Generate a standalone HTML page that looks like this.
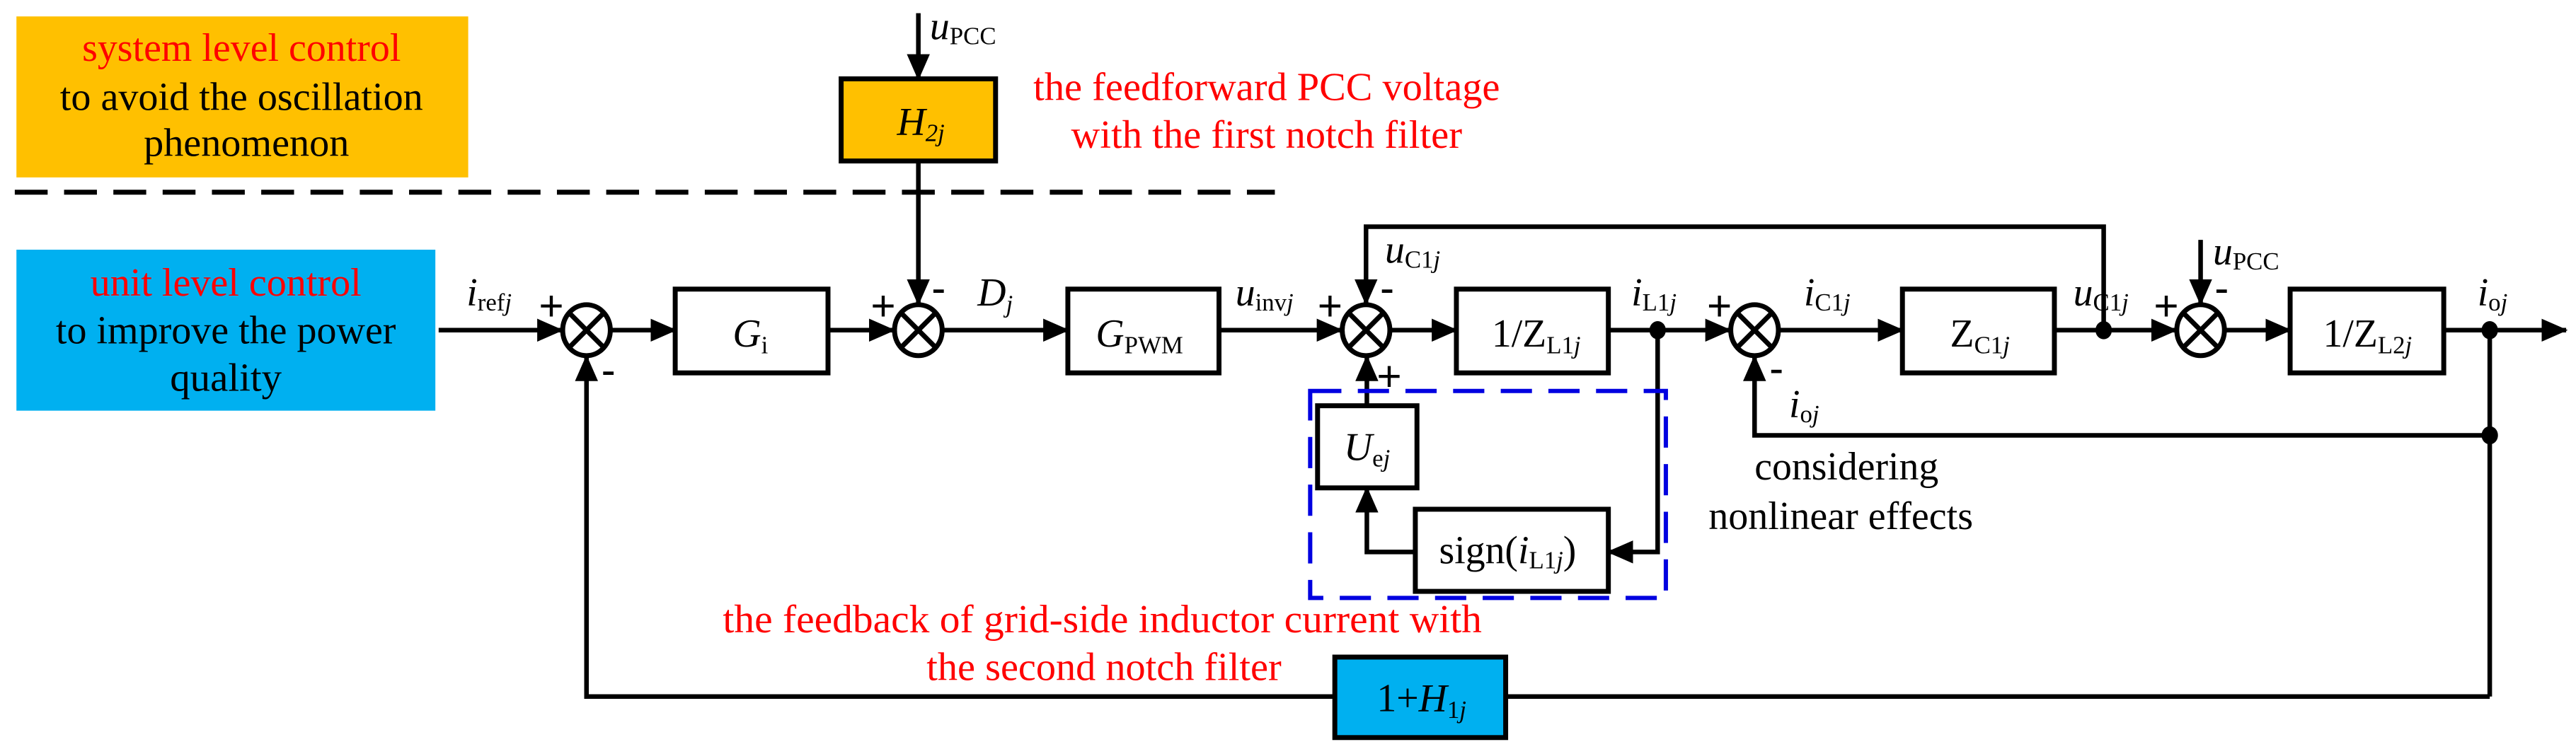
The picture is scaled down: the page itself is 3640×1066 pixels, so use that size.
<!DOCTYPE html>
<html><head><meta charset="utf-8"><style>
html,body{margin:0;padding:0;background:#fff;}
svg{display:block;}
</style></head><body>
<svg width="3640" height="1066" viewBox="0 0 1568 459" preserveAspectRatio="none" xmlns="http://www.w3.org/2000/svg" font-family="Liberation Serif, DejaVu Serif, serif">
<defs>
<marker id="a" markerWidth="16" markerHeight="14" refX="15" refY="7" orient="auto" markerUnits="userSpaceOnUse"><path d="M0,0L16,7L0,14z" fill="#000"/></marker>
</defs>
<rect x="10" y="10" width="275" height="98" fill="#FFC000"/>
<text x="147" y="37" font-size="24" fill="#f00" text-anchor="middle" textLength="194" lengthAdjust="spacingAndGlyphs">system level control</text>
<text x="147" y="67" font-size="24" text-anchor="middle" textLength="221" lengthAdjust="spacingAndGlyphs">to avoid the oscillation</text>
<text x="150" y="95" font-size="24" text-anchor="middle" textLength="125" lengthAdjust="spacingAndGlyphs">phenomenon</text>
<line x1="9" y1="117" x2="776" y2="117" stroke="#000" stroke-width="3" stroke-dasharray="20,10"/>
<rect x="10" y="152" width="255" height="98" fill="#00B0F0"/>
<text x="137.5" y="180" font-size="24" fill="#f00" text-anchor="middle" textLength="165" lengthAdjust="spacingAndGlyphs">unit level control</text>
<text x="137.5" y="209" font-size="24" text-anchor="middle" textLength="207" lengthAdjust="spacingAndGlyphs">to improve the power</text>
<text x="137.5" y="238" font-size="24" text-anchor="middle" textLength="68" lengthAdjust="spacingAndGlyphs">quality</text>
<text x="629" y="61" font-size="24" fill="#f00" textLength="284" lengthAdjust="spacingAndGlyphs">the feedforward PCC voltage</text>
<text x="652" y="90" font-size="24" fill="#f00" textLength="238" lengthAdjust="spacingAndGlyphs">with the first notch filter</text>
<text x="440" y="385" font-size="24" fill="#f00" textLength="462" lengthAdjust="spacingAndGlyphs">the feedback of grid-side inductor current with</text>
<text x="564" y="414" font-size="24" fill="#f00" textLength="216" lengthAdjust="spacingAndGlyphs">the second notch filter</text>
<text x="1068" y="292" font-size="24" textLength="112" lengthAdjust="spacingAndGlyphs">considering</text>
<text x="1040" y="322" font-size="24" textLength="161" lengthAdjust="spacingAndGlyphs">nonlinear effects</text>

<g stroke="#000" stroke-width="2.8" fill="none">
<rect x="512" y="48" width="94" height="50" fill="#FFC000" stroke-width="3"/>
<rect x="411" y="176" width="93" height="51" stroke-width="3"/>
<rect x="650" y="176" width="92" height="51" stroke-width="3"/>
<rect x="886.5" y="176" width="92.5" height="51" stroke-width="3"/>
<rect x="1158" y="176" width="92.5" height="51" stroke-width="3"/>
<rect x="1394" y="176" width="93.5" height="51" stroke-width="3"/>
<rect x="812.5" y="400" width="104" height="49" fill="#00B0F0" stroke-width="3"/>
<rect x="802" y="247" width="60.5" height="50" stroke-width="3"/>
<rect x="861.5" y="310" width="117.5" height="50" stroke-width="3"/>
<g stroke-width="3">
<ellipse cx="357" cy="201" rx="14.5" ry="15.5"/><path d="M346.4,190.4L367.6,211.6M367.6,190.4L346.4,211.6"/>
<ellipse cx="559" cy="201" rx="14.5" ry="15.5"/><path d="M548.4,190.4L569.6,211.6M569.6,190.4L548.4,211.6"/>
<ellipse cx="831.5" cy="201" rx="14.5" ry="15.5"/><path d="M820.9,190.4L842.1,211.6M842.1,190.4L820.9,211.6"/>
<ellipse cx="1068" cy="201" rx="14.5" ry="15.5"/><path d="M1057.4,190.4L1078.6,211.6M1078.6,190.4L1057.4,211.6"/>
<ellipse cx="1339.5" cy="201" rx="14.5" ry="15.5"/><path d="M1328.9,190.4L1350.1,211.6M1350.1,190.4L1328.9,211.6"/>
</g>
<line x1="267" y1="201" x2="342" y2="201" marker-end="url(#a)"/>
<line x1="372" y1="201" x2="411" y2="201" marker-end="url(#a)"/>
<line x1="504" y1="201" x2="544" y2="201" marker-end="url(#a)"/>
<line x1="574" y1="201" x2="650" y2="201" marker-end="url(#a)"/>
<line x1="742" y1="201" x2="816.5" y2="201" marker-end="url(#a)"/>
<line x1="846.5" y1="201" x2="886.5" y2="201" marker-end="url(#a)"/>
<line x1="979" y1="201" x2="1053" y2="201" marker-end="url(#a)"/>
<line x1="1083" y1="201" x2="1158" y2="201" marker-end="url(#a)"/>
<line x1="1250.5" y1="201" x2="1324.5" y2="201" marker-end="url(#a)"/>
<line x1="1354.5" y1="201" x2="1394" y2="201" marker-end="url(#a)"/>
<line x1="1487.5" y1="201" x2="1562" y2="201" marker-end="url(#a)"/>
<line x1="559" y1="8" x2="559" y2="48" marker-end="url(#a)"/>
<line x1="559" y1="98" x2="559" y2="185" marker-end="url(#a)"/>
<line x1="1339.5" y1="146" x2="1339.5" y2="185" marker-end="url(#a)"/>
<polyline points="1280.5,201 1280.5,138 831.5,138 831.5,185" marker-end="url(#a)"/>
<polyline points="1515.5,265 1068,265 1068,217" marker-end="url(#a)"/>
<line x1="1515.5" y1="201" x2="1515.5" y2="424"/>
<line x1="1515.5" y1="424" x2="916.5" y2="424"/>
<polyline points="812.5,424 357,424 357,217" marker-end="url(#a)"/>
<polyline points="1009,201 1009,336 979,336" marker-end="url(#a)"/>
<polyline points="861.5,336 832,336 832,297" marker-end="url(#a)"/>
<line x1="832" y1="247" x2="832" y2="217" marker-end="url(#a)"/>
</g>
<rect x="797.5" y="238" width="216.5" height="126" fill="none" stroke="#0000E0" stroke-width="2.6" stroke-dasharray="19,10"/>
<g fill="#000">
<ellipse cx="1009" cy="201" rx="5" ry="5.5"/>
<ellipse cx="1280.5" cy="201" rx="5" ry="5.5"/>
<ellipse cx="1515.5" cy="201" rx="5" ry="5.5"/>
<ellipse cx="1515.5" cy="265" rx="5" ry="5.5"/>
</g>
<g font-size="26" font-family="Liberation Sans, sans-serif">
<text x="328" y="195">+</text><text x="366" y="234">-</text>
<text x="530" y="195">+</text><text x="567" y="184">-</text>
<text x="802" y="195">+</text><text x="840" y="184">-</text><text x="838" y="238">+</text>
<text x="1039" y="195">+</text><text x="1077" y="233">-</text>
<text x="1311" y="195">+</text><text x="1348" y="184">-</text>
</g>
<g font-size="24">
<text x="566" y="24"><tspan font-style="italic">u</tspan><tspan font-size="15" dy="3">PCC</tspan></text>
<text x="1347" y="161"><tspan font-style="italic">u</tspan><tspan font-size="15" dy="3">PCC</tspan></text>
<text x="546" y="82" font-style="italic">H<tspan font-size="15" dy="4">2j</tspan></text>
<text x="446" y="211" font-style="italic">G<tspan font-size="15" dy="4" font-style="normal">i</tspan></text>
<text x="667" y="211" font-style="italic">G<tspan font-size="15" dy="4" font-style="normal">PWM</tspan></text>
<text x="284" y="186"><tspan font-style="italic">i</tspan><tspan font-size="15" dy="3">ref<tspan font-style="italic">j</tspan></tspan></text>
<text x="595" y="186" font-style="italic">D<tspan font-size="15" dy="4">j</tspan></text>
<text x="752" y="186"><tspan font-style="italic">u</tspan><tspan font-size="15" dy="3">inv<tspan font-style="italic">j</tspan></tspan></text>
<text x="843" y="160"><tspan font-style="italic">u</tspan><tspan font-size="15" dy="3">C1<tspan font-style="italic">j</tspan></tspan></text>
<text x="908" y="211">1/Z<tspan font-size="15" dy="4">L1<tspan font-style="italic">j</tspan></tspan></text>
<text x="993" y="186"><tspan font-style="italic">i</tspan><tspan font-size="15" dy="3">L1<tspan font-style="italic">j</tspan></tspan></text>
<text x="1098" y="186"><tspan font-style="italic">i</tspan><tspan font-size="15" dy="3">C1<tspan font-style="italic">j</tspan></tspan></text>
<text x="1187" y="211">Z<tspan font-size="15" dy="4">C1<tspan font-style="italic">j</tspan></tspan></text>
<text x="1262" y="186"><tspan font-style="italic">u</tspan><tspan font-size="15" dy="3">C1<tspan font-style="italic">j</tspan></tspan></text>
<text x="1414" y="211">1/Z<tspan font-size="15" dy="4">L2<tspan font-style="italic">j</tspan></tspan></text>
<text x="1508" y="186"><tspan font-style="italic">i</tspan><tspan font-size="15" dy="3">o<tspan font-style="italic">j</tspan></tspan></text>
<text x="1089" y="254"><tspan font-style="italic">i</tspan><tspan font-size="15" dy="3">o<tspan font-style="italic">j</tspan></tspan></text>
<text x="818" y="280" font-style="italic">U<tspan font-size="15" dy="4" font-style="normal">e<tspan font-style="italic">j</tspan></tspan></text>
<text x="876" y="343">sign(<tspan font-style="italic">i</tspan><tspan font-size="15" dy="3">L1<tspan font-style="italic">j</tspan></tspan><tspan dy="-3">)</tspan></text>
<text x="838" y="433">1+<tspan font-style="italic">H</tspan><tspan font-size="15" dy="4">1<tspan font-style="italic">j</tspan></tspan></text>
</g>
</svg>
</body></html>
